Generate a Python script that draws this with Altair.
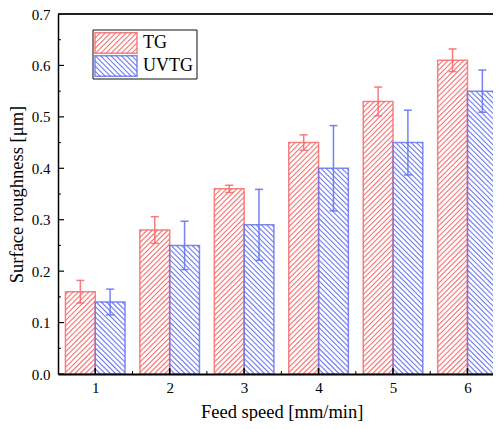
import altair as alt
import pandas as pd

# ---- data ----
feed = [1, 2, 3, 4, 5, 6]
series_names = ["TG", "UVTG"]
tg_mean = [0.16, 0.28, 0.36, 0.45, 0.53, 0.61]
tg_err = [0.022, 0.026, 0.007, 0.015, 0.028, 0.022]
uvtg_mean = [0.14, 0.25, 0.29, 0.40, 0.45, 0.55]
uvtg_err = [0.025, 0.047, 0.069, 0.083, 0.063, 0.041]
x_tick_values = [1, 2, 3, 4, 5, 6]
y_tick_values = [0.0, 0.1, 0.2, 0.3, 0.4, 0.5, 0.6, 0.7]

# ---- layout / style constants ----
W, H = 435, 360
XMIN, XMAX = 0.5, 6.343
YMIN, YMAX = 0.0, 0.7
KX = W / (XMAX - XMIN)
KY = H / (YMAX - YMIN)
BARW = 0.4
BW = BARW * KX
S = 5.2  # hatch spacing (px)
RED = "#F76B6B"
BLUE = "#6676EE"
FONT = "Liberation Serif"

rows = []
for f, m, e in zip(feed, tg_mean, tg_err):
    rows.append({"feed": f, "series": "TG", "value": m, "err": e})
for f, m, e in zip(feed, uvtg_mean, uvtg_err):
    rows.append({"feed": f, "series": "UVTG", "value": m, "err": e})
df = pd.DataFrame(rows)

xs = alt.Scale(domain=[XMIN, XMAX], nice=False, zero=False)
ys = alt.Scale(domain=[YMIN, YMAX], nice=False, zero=False)
col = alt.Scale(domain=series_names, range=[RED, BLUE])

xaxis = alt.Axis(values=x_tick_values, format="d", tickSize=0, labelPadding=6,
                 domainWidth=2, domainColor="black", grid=False, zindex=1,
                 labelFont=FONT, labelFontSize=15, labelColor="black",
                 title="Feed speed [mm/min]", titleFont=FONT, titleFontSize=18.5,
                 titleFontWeight="normal", titleColor="black",
                 titleX=223.7, titleY=43, titleBaseline="alphabetic", titleAlign="center")
yaxis = alt.Axis(values=y_tick_values, format=".1f", tickSize=0, labelPadding=8,
                 domainWidth=1.5, domainColor="black", grid=False, zindex=1,
                 labelFont=FONT, labelFontSize=15, labelColor="black",
                 title="Surface roughness [μm]", titleFont=FONT, titleFontSize=18.5,
                 titleFontWeight="normal", titleColor="black", titleAngle=270,
                 titleX=-36, titleY=180, titleBaseline="alphabetic", titleAlign="center")

base = (alt.Chart(df)
        .transform_calculate(x0=f"datum.feed + (datum.series == 'TG' ? {-BARW} : 0)")
        .transform_calculate(x1=f"datum.x0 + {BARW}")
        .transform_calculate(xc=f"datum.x0 + {BARW / 2}")
        .transform_calculate(lo="datum.value - datum.err")
        .transform_calculate(hi="datum.value + datum.err")
        .transform_calculate(zero="0"))

bars = base.mark_rect(fillOpacity=0, strokeWidth=1.5, strokeOpacity=0.85).encode(
    x=alt.X("x0:Q", scale=xs, axis=xaxis),
    x2="x1:Q",
    y=alt.Y("value:Q", scale=ys, axis=yaxis),
    y2="zero:Q",
    stroke=alt.Stroke("series:N", scale=col, legend=None),
)


def hatch(chart):
    return (chart
            .transform_calculate(n=f"ceil((datum.Hpx + datum.Wpx) / {S}) + 1")
            .transform_calculate(k="sequence(0, datum.n)")
            .transform_flatten(["k"])
            .transform_calculate(u=f"datum.series == 'TG' ? (datum.k * {S} - datum.Wpx) : (datum.k * {S})")
            .transform_calculate(t0="datum.series == 'TG' ? max(0, -datum.u) : max(0, datum.u - datum.Hpx)")
            .transform_calculate(t1="datum.series == 'TG' ? min(datum.Wpx, datum.Hpx - datum.u) : min(datum.Wpx, datum.u)")
            .transform_filter("datum.t1 > datum.t0")
            .transform_calculate(hx0=f"{XMIN} + (datum.Lpx + datum.t0) / {KX}")
            .transform_calculate(hx1=f"{XMIN} + (datum.Lpx + datum.t1) / {KX}")
            .transform_calculate(hy0=f"(datum.Bpx + (datum.series == 'TG' ? datum.u + datum.t0 : datum.u - datum.t0)) / {KY}")
            .transform_calculate(hy1=f"(datum.Bpx + (datum.series == 'TG' ? datum.u + datum.t1 : datum.u - datum.t1)) / {KY}")
            .mark_rule(strokeWidth=1.1, strokeOpacity=0.95)
            .encode(
                x=alt.X("hx0:Q", scale=xs), x2="hx1:Q",
                y=alt.Y("hy0:Q", scale=ys), y2="hy1:Q",
                stroke=alt.Stroke("series:N", scale=col, legend=None)))


bar_hatch = hatch(base
                  .transform_calculate(Lpx=f"(datum.x0 - {XMIN}) * {KX}")
                  .transform_calculate(Bpx="0")
                  .transform_calculate(Wpx=f"{BW}")
                  .transform_calculate(Hpx=f"datum.value * {KY}"))

err_line = base.mark_rule(strokeWidth=1.5, strokeOpacity=0.9).encode(
    x=alt.X("xc:Q", scale=xs),
    y=alt.Y("lo:Q", scale=ys), y2="hi:Q",
    stroke=alt.Stroke("series:N", scale=col, legend=None))
cap_hi = base.mark_tick(orient="horizontal", size=8, thickness=1.5, opacity=0.9).encode(
    x=alt.X("xc:Q", scale=xs),
    y=alt.Y("hi:Q", scale=ys),
    color=alt.Color("series:N", scale=col, legend=None))
cap_lo = base.mark_tick(orient="horizontal", size=8, thickness=1.5, opacity=0.9).encode(
    x=alt.X("xc:Q", scale=xs),
    y=alt.Y("lo:Q", scale=ys),
    color=alt.Color("series:N", scale=col, legend=None))

# inward ticks
x_major = pd.DataFrame({"pos": x_tick_values})
x_minor = pd.DataFrame({"pos": [(a + b) / 2 for a, b in zip(x_tick_values[:-1], x_tick_values[1:])]})
y_major = pd.DataFrame({"pos": y_tick_values})
y_minor = pd.DataFrame({"pos": [(a + b) / 2 for a, b in zip(y_tick_values[:-1], y_tick_values[1:])]})

xt_major = alt.Chart(x_major).mark_rule(color="black", strokeWidth=1.5).encode(
    x=alt.X("pos:Q", scale=xs), y=alt.value(H), y2=alt.value(H - 6))
xt_minor = alt.Chart(x_minor).mark_rule(color="black", strokeWidth=1).encode(
    x=alt.X("pos:Q", scale=xs), y=alt.value(H), y2=alt.value(H - 3))
yt_major = alt.Chart(y_major).mark_rule(color="black", strokeWidth=1.2).encode(
    y=alt.Y("pos:Q", scale=ys), x=alt.value(0), x2=alt.value(6))
yt_minor = alt.Chart(y_minor).mark_rule(color="black", strokeWidth=1).encode(
    y=alt.Y("pos:Q", scale=ys), x=alt.value(0), x2=alt.value(3))

top_line = alt.Chart(x_major).mark_rule(color="#222222", strokeWidth=1.5).encode(
    x=alt.value(0), x2=alt.value(W), y=alt.value(0))

# legend (manual, hatched swatches)
LG_X0, LG_X1, LG_Y0, LG_Y1 = 35, 139, 16, 65
SW_X, SW_W, SW_H, SW_Y0, SW_DY = 37, 42, 20.6, 18.7, 23
leg_df = pd.DataFrame({"series": series_names, "idx": list(range(len(series_names)))})

legend_box = alt.Chart(leg_df.head(1)).mark_rect(fill="white", stroke="#111111", strokeWidth=1).encode(
    x=alt.value(LG_X0), x2=alt.value(LG_X1), y=alt.value(LG_Y0), y2=alt.value(LG_Y1))

leg_layers = [legend_box]
for i, name in enumerate(series_names):
    c = RED if name == "TG" else BLUE
    top = SW_Y0 + i * SW_DY
    one = leg_df[leg_df["series"] == name]
    leg_layers.append(alt.Chart(one).mark_rect(fillOpacity=0, stroke=c, strokeWidth=1.5, strokeOpacity=0.85).encode(
        x=alt.value(SW_X), x2=alt.value(SW_X + SW_W), y=alt.value(top), y2=alt.value(top + SW_H)))
    leg_layers.append(alt.Chart(one).mark_text(align="left", baseline="alphabetic", font=FONT,
                                               fontSize=18, color="black").encode(
        x=alt.value(85), y=alt.value(top + 15.6), text="series:N"))

leg_hatch = hatch(alt.Chart(leg_df)
                  .transform_calculate(Lpx=f"{SW_X}")
                  .transform_calculate(Bpx=f"{H} - ({SW_Y0} + datum.idx * {SW_DY} + {SW_H})")
                  .transform_calculate(Wpx=f"{SW_W}")
                  .transform_calculate(Hpx=f"{SW_H}"))

chart = alt.layer(
    bars, bar_hatch, err_line, cap_hi, cap_lo,
    xt_major, xt_minor, yt_major, yt_minor, top_line,
    *leg_layers, leg_hatch,
).properties(
    width=W, height=H,
    autosize=alt.AutoSizeParams(type="none"),
    padding={"left": 50, "top": 6, "right": 0, "bottom": 47},
    background="white",
).configure_view(stroke=None)

chart.save("out.html", embed_options={"renderer": "svg", "actions": False})
